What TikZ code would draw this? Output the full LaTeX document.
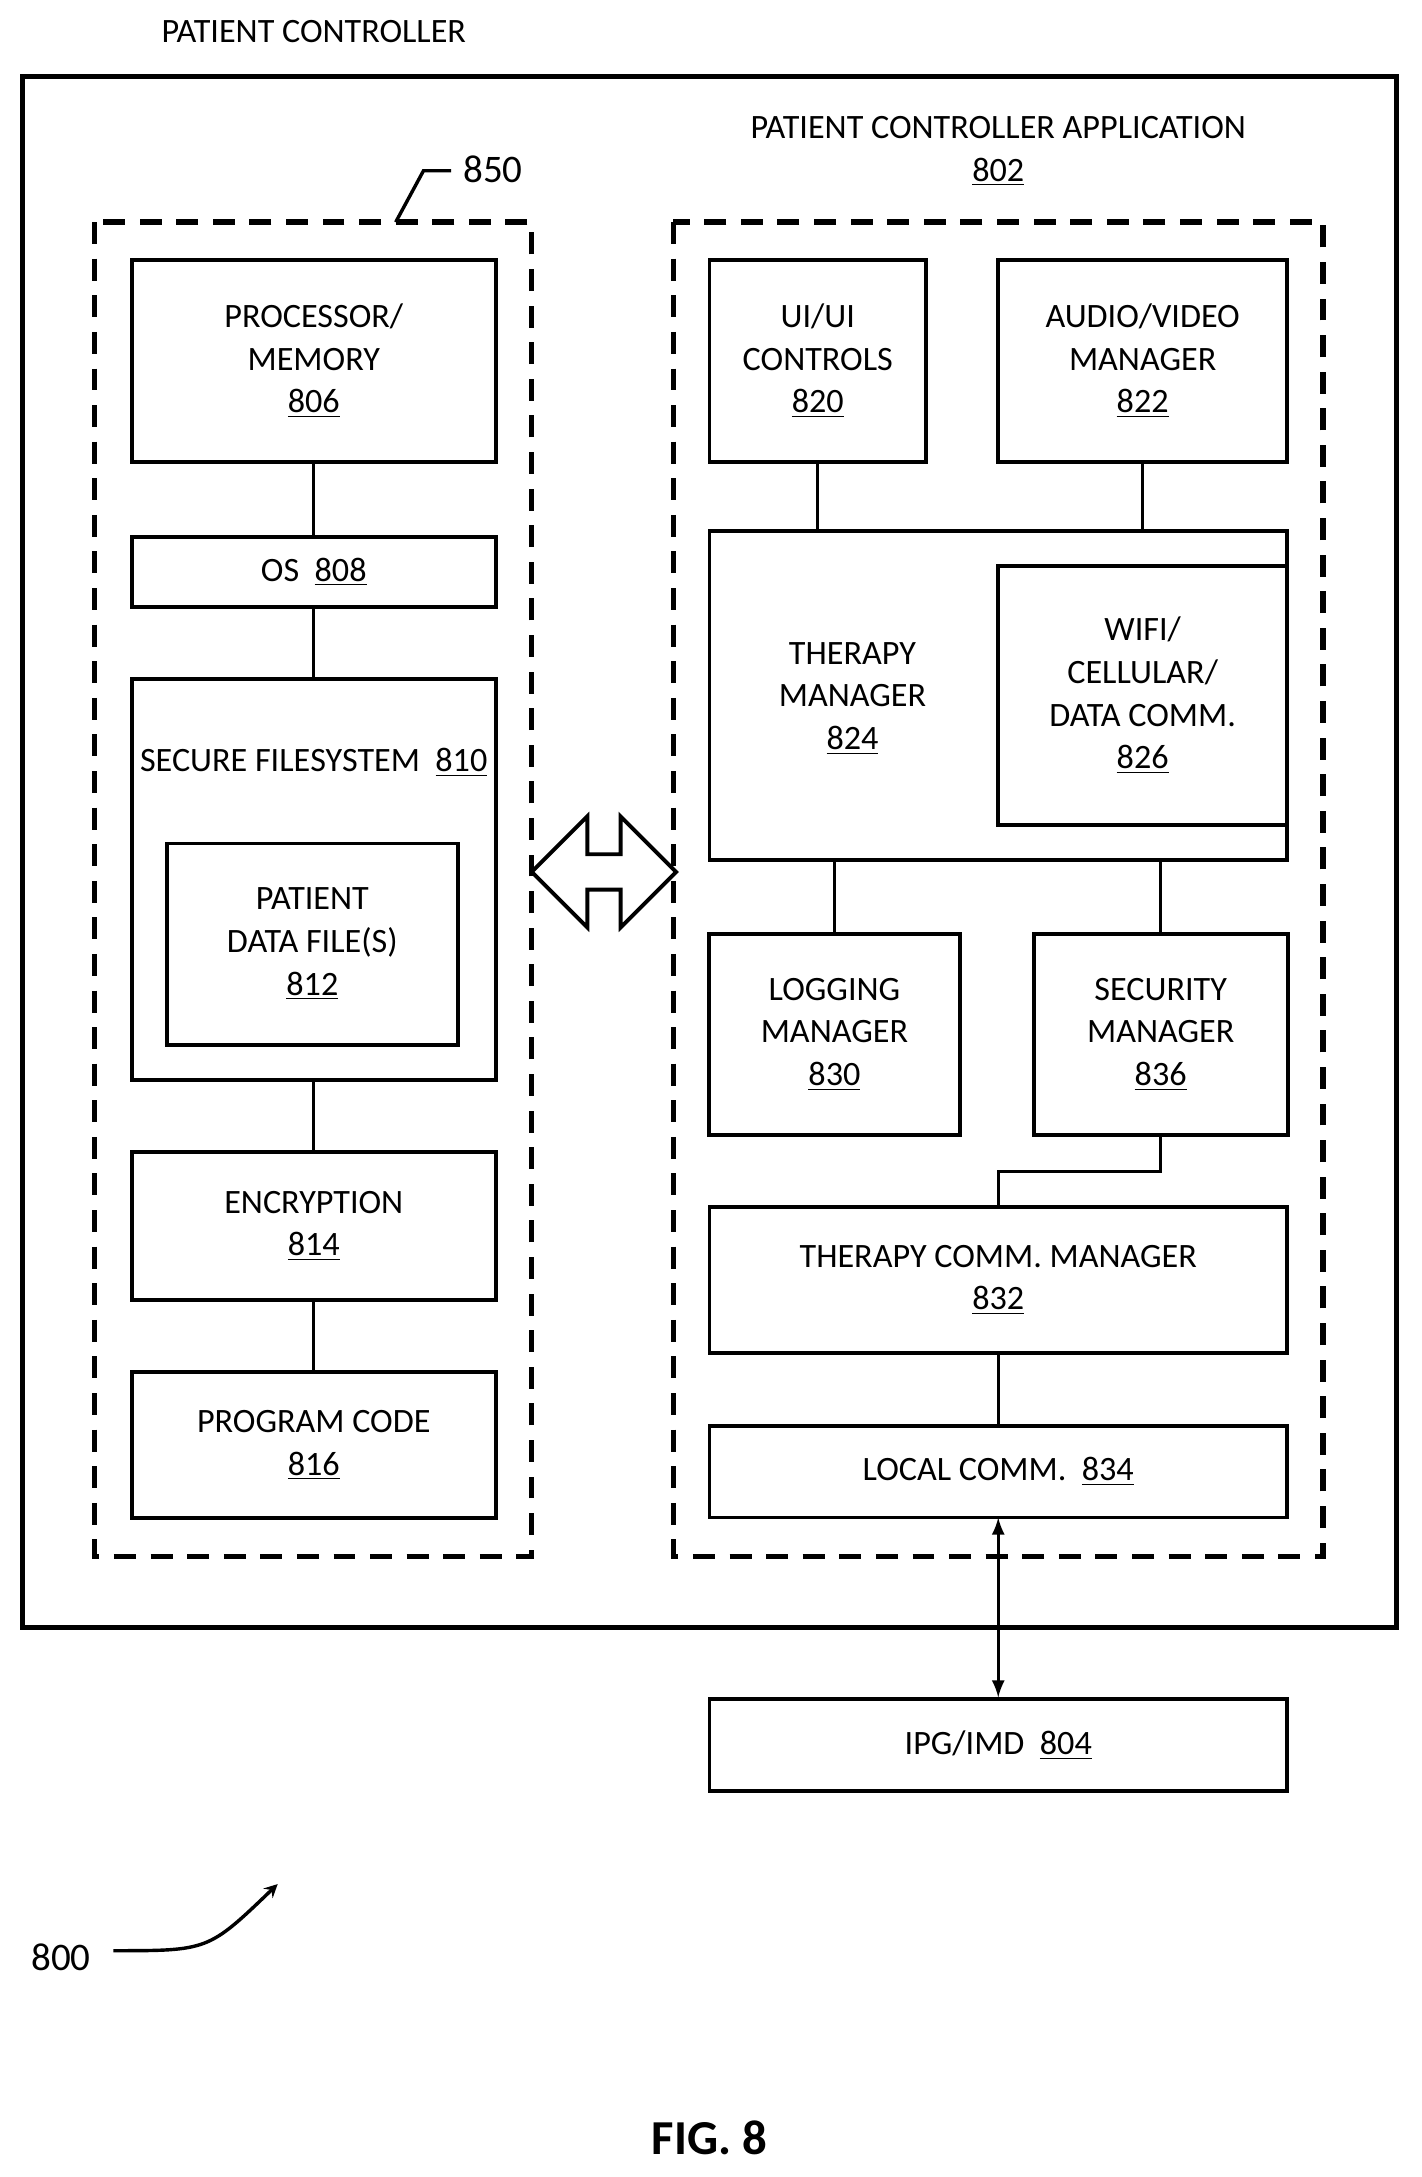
\documentclass[tikz,border=0pt]{standalone}
\usepackage{fontspec}
\setmainfont{Carlito}
\usetikzlibrary{positioning,shapes.arrows,calc}
\tikzset{
  blk/.style={draw,line width=1.6pt,align=center},
  dsh/.style={draw,line width=2.2pt,dash pattern=on 9pt off 6pt},
  wire/.style={line width=1.4pt}
}
\newcommand{\un}[1]{\underline{#1}}
\begin{document}
\begin{tikzpicture}[x=0.02cm,y=-0.02cm,font=\fontsize{14}{17.5}\selectfont]
\useasboundingbox (0,0) rectangle (1024,1568);
\node at (226,23) (title) {PATIENT CONTROLLER};
\draw[line width=2pt] (16,55) rectangle (1006,1172);
% left group
\draw[dsh] (68,160) rectangle (383,1121);
\node at (355,122) (n850) {\fontsize{16}{18}\selectfont 850};
\draw[wire] (285,160) -- (305,123) -- (325,123);
\node[blk,minimum width=262*0.02cm,minimum height=145*0.02cm] at (226,260) (pm) {PROCESSOR/\\MEMORY\\\un{806}};
\node[blk,minimum width=262*0.02cm,minimum height=51*0.02cm] at (226,412) (os) {OS~~\un{808}};
\draw[line width=1.6pt] (95,489) rectangle (357,778);
\node at (226,549) (sfs) {SECURE FILE\\SYSTEM~~\un{810}};
\node[align=center] at (226,549) {};
\node[blk,minimum width=210*0.02cm,minimum height=145*0.02cm] at (225,680) (pdf) {PATIENT\\DATA FILE(S)\\\un{812}};
\coordinate (sfstop) at (226,489);
\coordinate (sfsbot) at (226,778);
\node[blk,minimum width=262*0.02cm,minimum height=106*0.02cm] at (226,883) (enc) {ENCRYPTION\\\un{814}};
\node[blk,minimum width=262*0.02cm,minimum height=105*0.02cm] at (226,1041) (code) {PROGRAM CODE\\\un{816}};
\draw[wire] (pm) -- (os);
\draw[wire] (os) -- (sfstop);
\draw[wire] (sfsbot) -- (enc);
\draw[wire] (enc) -- (code);
% right group
\draw[dsh] (485,160) rectangle (953,1121);
\node[align=center] at (719,109) (app) {PATIENT CONTROLLER APPLICATION\\\un{802}};
\node[blk,minimum width=156*0.02cm,minimum height=145*0.02cm] at (589,260) (ui) {UI/UI\\CONTROLS\\\un{820}};
\node[blk,minimum width=208*0.02cm,minimum height=145*0.02cm] at (823,260) (av) {AUDIO/VIDEO\\MANAGER\\\un{822}};
\node[blk,minimum width=416*0.02cm,minimum height=237*0.02cm] at (719,501) (tm) {};
\node[align=center] at (614,503) (tmtxt) {THERAPY\\MANAGER\\\un{824}};
\node[blk,minimum width=208*0.02cm,minimum height=187*0.02cm] at (823,501) (wifi) {WIFI/\\CELLULAR/\\DATA COMM.\\\un{826}};
\node[blk,minimum width=181*0.02cm,minimum height=145*0.02cm] at (601,745) (log) {LOGGING\\MANAGER\\\un{830}};
\node[blk,minimum width=183*0.02cm,minimum height=145*0.02cm] at (836,745) (sec) {SECURITY\\MANAGER\\\un{836}};
\node[blk,minimum width=416*0.02cm,minimum height=105*0.02cm] at (719,922) (tcm) {THERAPY COMM. MANAGER\\\un{832}};
\node[blk,minimum width=416*0.02cm,minimum height=66*0.02cm] at (719,1060) (lc) {LOCAL COMM.~~\un{834}};
\node[blk,minimum width=416*0.02cm,minimum height=66*0.02cm] at (719,1257) (ipg) {IPG/IMD~~\un{804}};
\draw[wire] (ui) -- (ui |- tm.north);
\draw[wire] (av) -- (av |- tm.north);
\draw[wire] (log) -- (log |- tm.south);
\draw[wire] (sec) -- (sec |- tm.south);
\draw[wire] (sec.south) -- ++(0,25) -| (tcm.north);
\draw[wire] (tcm) -- (lc);
\draw[wire,<->,>=latex] (719,1093) -- (ipg.north);
% between groups
\node[draw,line width=1.6pt,double arrow,double arrow head extend=6pt,minimum height=104*0.02cm,minimum width=80*0.02cm,inner sep=2pt] at (435,628) (link) {};
% figure label
\node at (44,1410) (n800) {\fontsize{16}{18}\selectfont 800};
\draw[wire,->,>=stealth] (n800.east) ++(10,-5) .. controls (150,1405) .. (200,1357);
\node[font=\bfseries\fontsize{20}{24}\selectfont] at (511,1540) (fig) {FIG. 8};
\end{tikzpicture}
\end{document}
